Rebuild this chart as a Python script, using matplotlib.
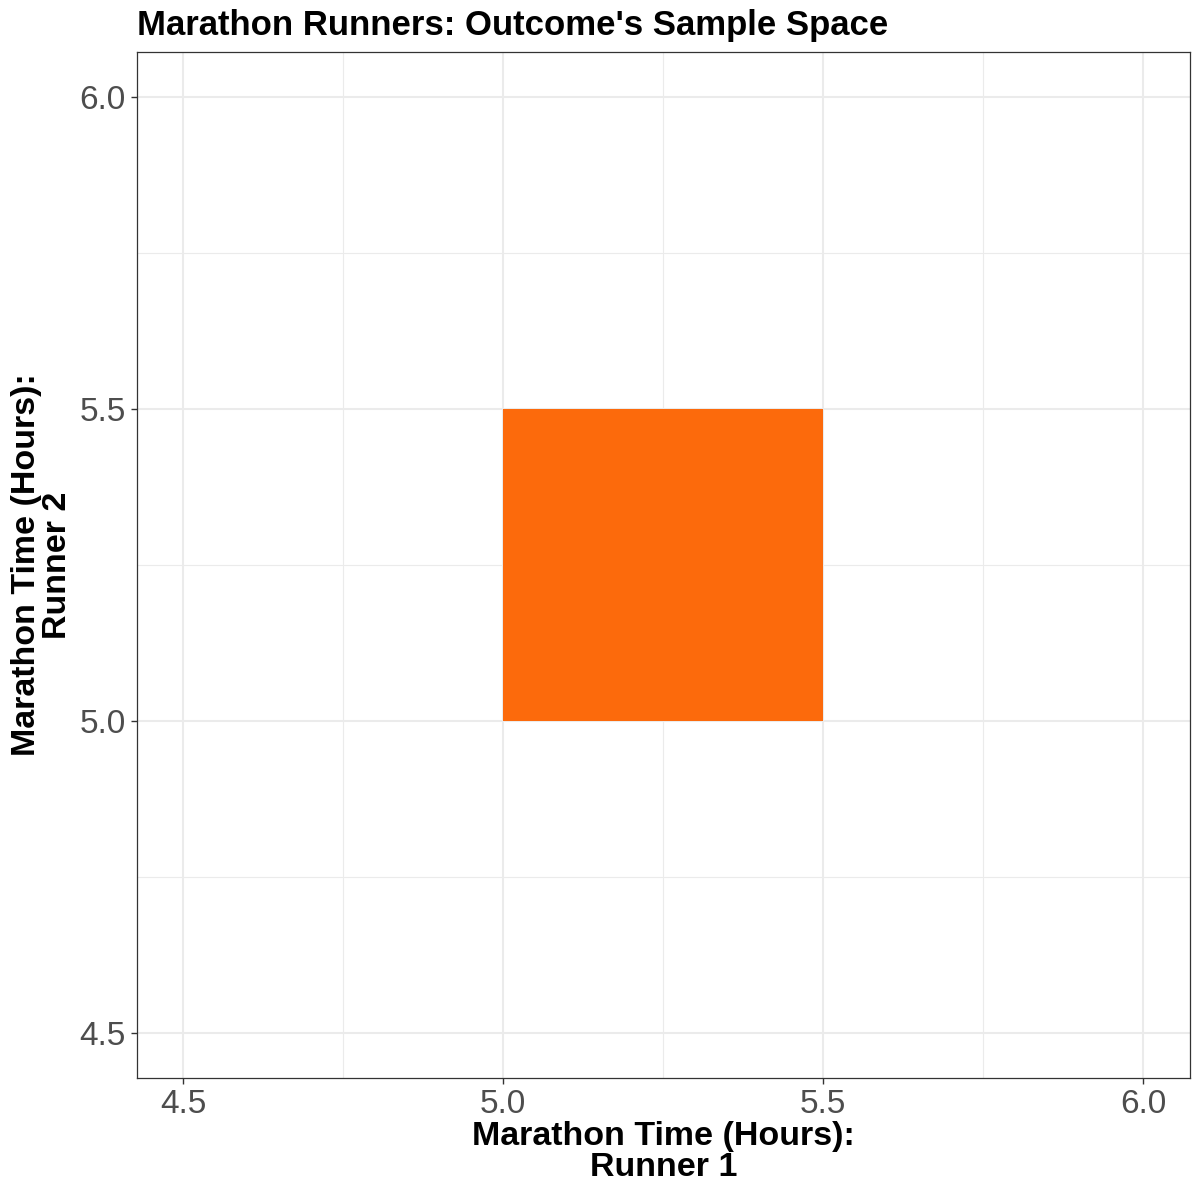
import matplotlib.pyplot as plt
from matplotlib.patches import Rectangle

plt.rcParams['font.family'] = ['Liberation Sans', 'DejaVu Sans']

# Sample space region: runner 1 and runner 2 times (hours)
runner1_range = [5.0, 5.5]
runner2_range = [5.0, 5.5]
major_ticks = [4.5, 5.0, 5.5, 6.0]
minor_ticks = [4.75, 5.25, 5.75]
tick_labels = ['4.5', '5.0', '5.5', '6.0']

fig = plt.figure(figsize=(12, 12), dpi=100)
ax = fig.add_axes([0.1142, 0.1017, 0.8775, 0.855])

ax.add_patch(Rectangle((runner1_range[0], runner2_range[0]),
                       runner1_range[1] - runner1_range[0],
                       runner2_range[1] - runner2_range[0],
                       facecolor='#FC6A0C', edgecolor='none', zorder=3))

ax.set_xlim(4.428, 6.073)
ax.set_ylim(4.428, 6.072)

ax.set_xticks(major_ticks)
ax.set_xticklabels(tick_labels)
ax.set_yticks(major_ticks)
ax.set_yticklabels(tick_labels)
ax.set_xticks(minor_ticks, minor=True)
ax.set_yticks(minor_ticks, minor=True)

ax.grid(True, which='major', color='#EBEBEB', linewidth=1.5, zorder=0)
ax.grid(True, which='minor', color='#EBEBEB', linewidth=0.8, zorder=0)
ax.set_axisbelow(True)

ax.tick_params(axis='both', which='major', labelsize=24, labelcolor='#4D4D4D',
               color='#333333', length=4, width=1, pad=4)
ax.tick_params(axis='both', which='minor', length=0)

for s in ax.spines.values():
    s.set_color('#333333')
    s.set_linewidth(0.9)

ax.set_xlabel('Marathon Time (Hours):\nRunner 1', fontsize=24.5, fontweight='bold',
              linespacing=0.97, labelpad=1, multialignment='center')
ax.set_ylabel('Marathon Time (Hours):\nRunner 2', fontsize=24.5, fontweight='bold',
              linespacing=0.97, labelpad=5, multialignment='center')
ax.set_title("Marathon Runners: Outcome's Sample Space", fontsize=25,
             fontweight='bold', loc='left', pad=12)

fig.savefig('out.png', dpi=100)
